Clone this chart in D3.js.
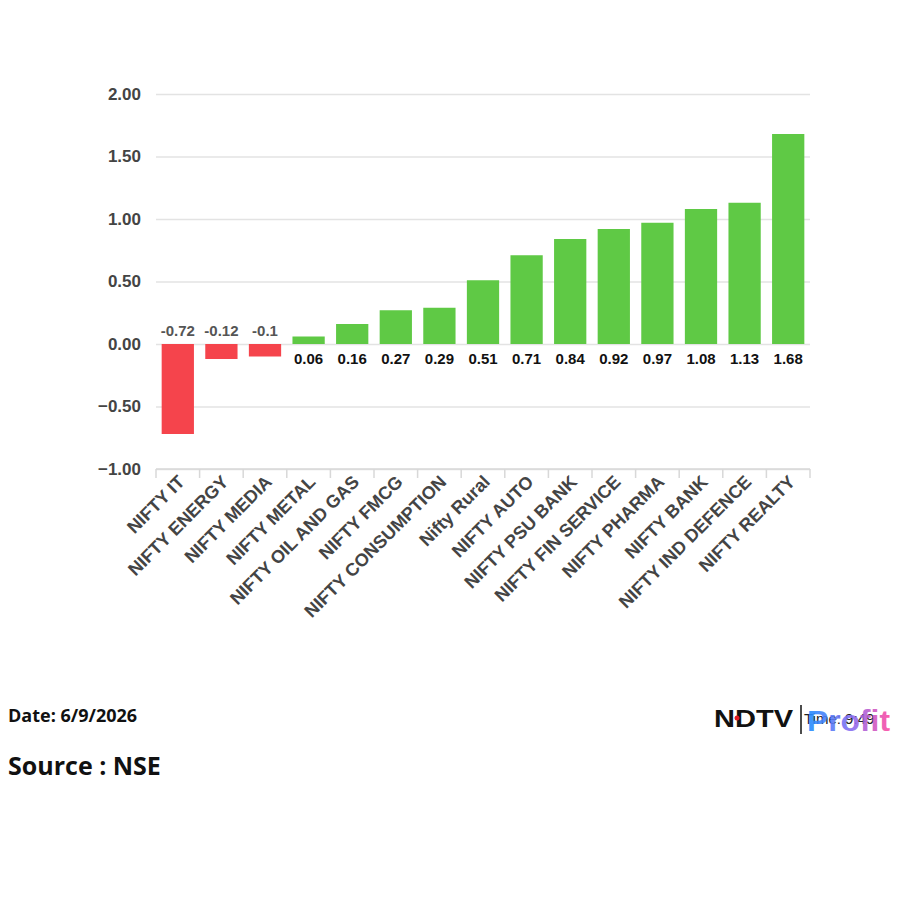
<!DOCTYPE html>
<html>
<head>
<meta charset="utf-8">
<script src="https://cdn.jsdelivr.net/npm/d3@7"></script>
<style>
  body { margin: 0; background: #fff; }
  svg { display: block; }
  .tick-label { font-family: Arial, "Liberation Sans", sans-serif; font-weight: bold; font-size: 17px; fill: #444; }
  .cat-label { font-family: Arial, "Liberation Sans", sans-serif; font-weight: bold; font-size: 18px; fill: #444; }
  .val-label { font-family: Arial, "Liberation Sans", sans-serif; font-weight: bold; font-size: 15px; }
  .foot { font-family: "Open Sans", "Noto Sans", sans-serif; font-weight: bold; fill: #111; }
</style>
</head>
<body>
<svg id="chart" width="900" height="900"></svg>
<script>
// data
const categories = [
  'NIFTY IT', 'NIFTY ENERGY', 'NIFTY MEDIA', 'NIFTY METAL', 'NIFTY OIL AND GAS',
  'NIFTY FMCG', 'NIFTY CONSUMPTION', 'Nifty Rural', 'NIFTY AUTO', 'NIFTY PSU BANK',
  'NIFTY FIN SERVICE', 'NIFTY PHARMA', 'NIFTY BANK', 'NIFTY IND DEFENCE', 'NIFTY REALTY'
];
const changes = [-0.72, -0.12, -0.1, 0.06, 0.16, 0.27, 0.29, 0.51, 0.71, 0.84, 0.92, 0.97, 1.08, 1.13, 1.68];
const yTicks = [-1, -0.5, 0, 0.5, 1, 1.5, 2];
const dateText = 'Date: 6/9/2026';
const sourceText = 'Source : NSE';

const red = '#f5444c';
const green = '#5fc945';

const plotArea = { left: 156, right: 810, top: 94, bottom: 469 };

const svg = d3.select('#chart');

const x = d3.scaleBand()
  .domain(categories)
  .range([plotArea.left, plotArea.right])
  .paddingInner(0.26)
  .paddingOuter(0.13);

const y = d3.scaleLinear()
  .domain([-1, 2])
  .range([plotArea.bottom, plotArea.top]);

// grid lines
const yAxis = d3.axisLeft(y)
  .tickValues(yTicks)
  .tickFormat(d3.format('.2f'))
  .tickSize(-(plotArea.right - plotArea.left))
  .tickPadding(15);

const yGroup = svg.append('g')
  .attr('transform', translate(plotArea.left, 0))
  .call(yAxis);
yGroup.select('.domain').remove();
yGroup.selectAll('.tick line').attr('stroke', '#e3e3e3').attr('stroke-width', 1.5);
yGroup.selectAll('.tick text').attr('class', 'tick-label').attr('font-family', null).attr('font-size', null);

// bottom axis line and category boundary ticks
const xGroup = svg.append('g').attr('id', 'x-axis');
xGroup.append('line')
  .attr('x1', plotArea.left).attr('x2', plotArea.right)
  .attr('y1', y(-1)).attr('y2', y(-1))
  .attr('stroke', '#d8d8d8').attr('stroke-width', 1.5);
const bounds = categories.map(c => x(c) - x.step() * x.paddingOuter());
bounds.push(plotArea.right);
xGroup.selectAll('line.tick')
  .data(bounds)
  .enter().append('line')
  .attr('class', 'tick')
  .attr('x1', d => d).attr('x2', d => d)
  .attr('y1', y(-1)).attr('y2', y(-1) + 9)
  .attr('stroke', '#d8d8d8').attr('stroke-width', 1.5);

xGroup.selectAll('text')
  .data(categories)
  .enter().append('text')
  .attr('class', 'cat-label')
  .attr('text-anchor', 'end')
  .attr('transform', d => translate(x(d) + x.bandwidth() / 2 + 8, y(-1) + 14) + ' rotate(-45)')
  .text(d => d);

// bars
const rows = categories.map((c, i) => ({ name: c, value: changes[i] }));

svg.append('g').attr('id', 'bars')
  .selectAll('rect')
  .data(rows)
  .enter().append('rect')
  .attr('x', d => x(d.name))
  .attr('width', x.bandwidth())
  .attr('y', d => y(Math.max(0, d.value)))
  .attr('height', d => Math.abs(y(d.value) - y(0)))
  .attr('fill', d => d.value < 0 ? red : green);

// value labels
svg.append('g').attr('id', 'values')
  .selectAll('text')
  .data(rows)
  .enter().append('text')
  .attr('class', 'val-label')
  .attr('text-anchor', 'middle')
  .attr('x', d => x(d.name) + x.bandwidth() / 2)
  .attr('y', d => d.value < 0 ? y(0) - 8 : y(0) + 20)
  .attr('fill', d => d.value < 0 ? '#555' : '#111')
  .text(d => String(d.value));

// footer
svg.append('text').attr('class', 'foot')
  .attr('x', 8).attr('y', 722).attr('font-size', 18)
  .text(dateText);
svg.append('text').attr('class', 'foot')
  .attr('x', 8).attr('y', 775).attr('font-size', 25)
  .text(sourceText);

// logo
const defs = svg.append('defs');
const grad = defs.append('linearGradient').attr('id', 'profit-grad');
grad.append('stop').attr('offset', '0%').attr('stop-color', '#1f8fff');
grad.append('stop').attr('offset', '55%').attr('stop-color', '#8a6cf0');
grad.append('stop').attr('offset', '100%').attr('stop-color', '#ff4aa0');

const logo = svg.append('g').attr('id', 'logo');
logo.append('text')
  .attr('x', 714).attr('y', 727)
  .attr('font-family', 'Arial, "Liberation Sans", sans-serif')
  .attr('font-weight', 900).attr('font-size', 24)
  .attr('textLength', 79)
  .attr('lengthAdjust', 'spacingAndGlyphs')
  .attr('fill', '#111')
  .text('NDTV');
logo.append('circle').attr('cx', 737).attr('cy', 718).attr('r', 2.5).attr('fill', '#e21b22');
logo.append('line')
  .attr('x1', 801).attr('x2', 801).attr('y1', 705).attr('y2', 734)
  .attr('stroke', '#111').attr('stroke-width', 1.5);
logo.append('text')
  .attr('x', 804).attr('y', 724)
  .attr('font-family', 'Arial, "Liberation Sans", sans-serif')
  .attr('font-size', 15).attr('fill', '#222')
  .text('Time: 9:49');
logo.append('text')
  .attr('x', 807).attr('y', 731)
  .attr('font-family', 'Arial, "Liberation Sans", sans-serif')
  .attr('font-weight', 'bold').attr('font-size', 30)
  .attr('textLength', 83)
  .attr('lengthAdjust', 'spacingAndGlyphs')
  .attr('fill', 'url(#profit-grad)')
  .attr('fill-opacity', 0.9)
  .text('Profit');

function translate(a, b) {
  return 'translate(' + String(a) + ',' + String(b) + ')';
}
</script>
</body>
</html>
